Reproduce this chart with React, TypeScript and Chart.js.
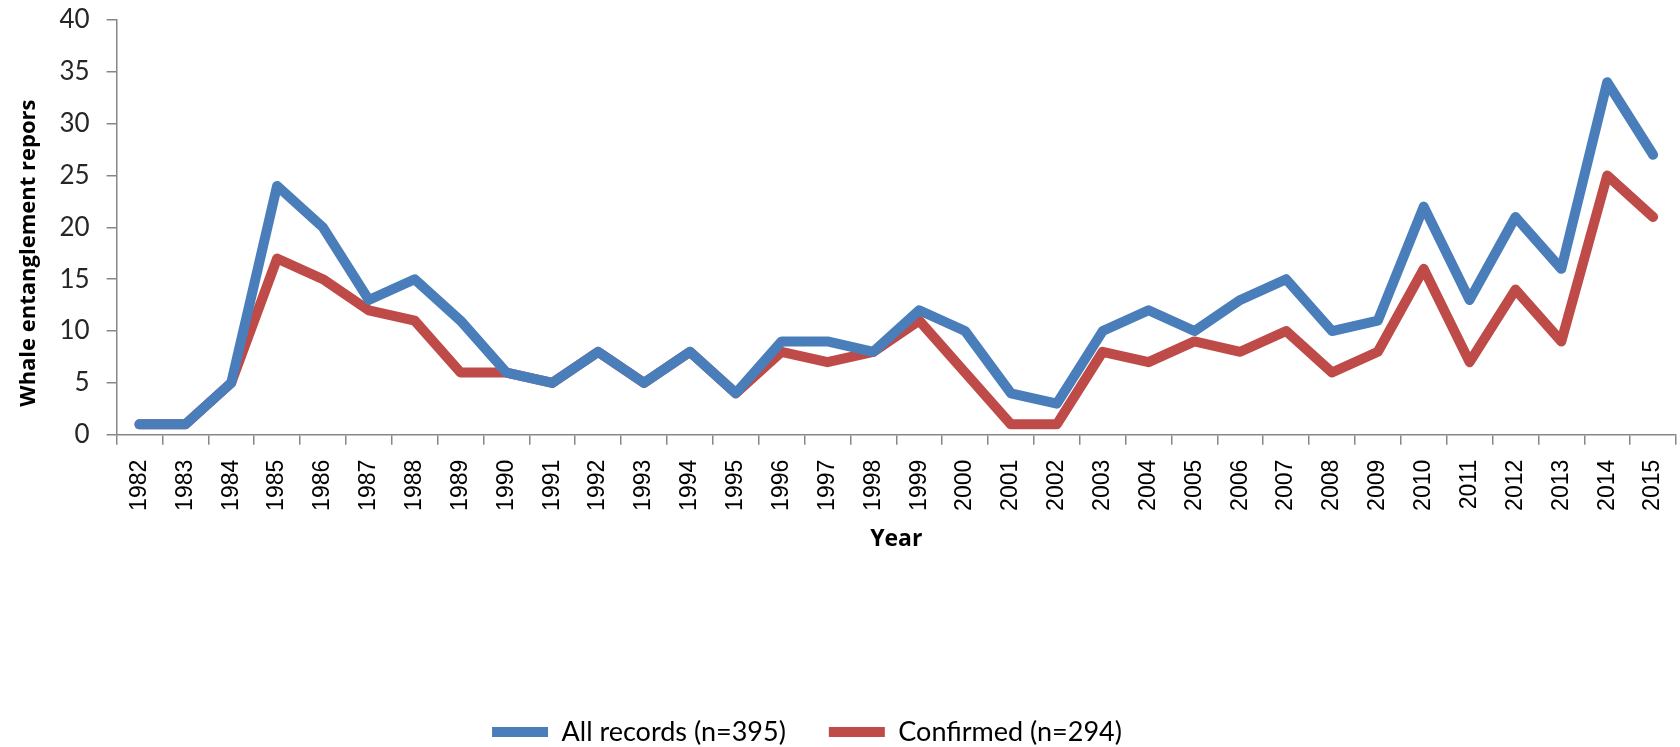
import React, { useEffect, useRef } from "react";
import { Chart, registerables } from "chart.js";

Chart.register(...registerables);

const years = [
  "1982", "1983", "1984", "1985", "1986", "1987", "1988", "1989", "1990", "1991",
  "1992", "1993", "1994", "1995", "1996", "1997", "1998", "1999", "2000", "2001",
  "2002", "2003", "2004", "2005", "2006", "2007", "2008", "2009", "2010", "2011",
  "2012", "2013", "2014", "2015",
];

const allRecords = [
  1, 1, 5, 24, 20, 13, 15, 11, 6, 5,
  8, 5, 8, 4, 9, 9, 8, 12, 10, 4,
  3, 10, 12, 10, 13, 15, 10, 11, 22, 13,
  21, 16, 34, 27,
];

const confirmed = [
  1, 1, 5, 17, 15, 12, 11, 6, 6, 5,
  8, 5, 8, 4, 8, 7, 8, 11, 6, 1,
  1, 8, 7, 9, 8, 10, 6, 8, 16, 7,
  14, 9, 25, 21,
];

const seriesLabels = ["All records (n=395)", "Confirmed (n=294)"];
const yTitle = "Whale entanglement repors";
const xTitle = "Year";

const LEGEND_SHIFT = -34;

const legendShift = {
  id: "legendShift",
  afterLayout(chart: any) {
    if (chart.legend) {
      chart.legend.left += LEGEND_SHIFT;
      chart.legend.right += LEGEND_SHIFT;
    }
  },
};

export default function App() {
  const ref = useRef<HTMLCanvasElement | null>(null);

  useEffect(() => {
    if (!ref.current) return;
    const axisColor = "#878787";
    const chart = new Chart(ref.current, {
      type: "line",
      data: {
        labels: years,
        datasets: [
          {
            label: seriesLabels[0],
            data: allRecords,
            borderColor: "#4A7EBB",
            backgroundColor: "#4A7EBB",
            borderWidth: 10,
            borderCapStyle: "round",
            borderJoinStyle: "round",
            pointRadius: 0,
            pointHoverRadius: 0,
            tension: 0,
          },
          {
            label: seriesLabels[1],
            data: confirmed,
            borderColor: "#BE4B48",
            backgroundColor: "#BE4B48",
            borderWidth: 10,
            borderCapStyle: "round",
            borderJoinStyle: "round",
            pointRadius: 0,
            pointHoverRadius: 0,
            tension: 0,
          },
        ],
      },
      options: {
        animation: false,
        responsive: true,
        maintainAspectRatio: false,
        layout: { padding: { top: 0, left: 6, right: 4, bottom: -8.5 } },
        plugins: {
          tooltip: { enabled: false },
          legend: {
            position: "bottom",
            labels: {
              usePointStyle: true,
              pointStyle: "line",
              pointStyleWidth: 56,
              color: "#000",
              padding: 43,
              font: { family: "Lato", size: 27 },
            },
          },
        },
        scales: {
          x: {
            offset: true,
            afterFit: (s: any) => {
              s.paddingLeft = 0;
              s.paddingRight = 0;
            },
            grid: {
              offset: true,
              drawOnChartArea: false,
              drawTicks: true,
              tickLength: 10,
              color: axisColor,
              lineWidth: 1.5,
            },
            border: { color: axisColor, width: 1.5 },
            ticks: {
              color: "#000",
              minRotation: 90,
              maxRotation: 90,
              autoSkip: false,
              padding: 15,
              font: { family: "Liberation Sans", size: 23 },
            },
            title: {
              display: true,
              text: xTitle,
              color: "#000",
              padding: { top: 0, bottom: 122 },
              font: { family: "Open Sans", size: 23, weight: "bold" },
            },
          },
          y: {
            min: 0,
            max: 40,
            afterFit: (s: any) => {
              s.paddingTop = 20;
            },
            grid: {
              drawOnChartArea: false,
              drawTicks: true,
              tickLength: 10,
              color: axisColor,
              lineWidth: 1.5,
            },
            border: { color: axisColor, width: 1.5 },
            ticks: {
              stepSize: 5,
              color: "#262626",
              padding: 17,
              font: { family: "Lato", size: 26 },
            },
            title: {
              display: true,
              text: yTitle + "         ",
              color: "#000",
              padding: { top: 10, bottom: 0 },
              font: { family: "Open Sans", size: 22, weight: "bold" },
            },
          },
        },
      },
      plugins: [legendShift],
    });
    return () => chart.destroy();
  }, []);

  return (
    <div style={{ position: "fixed", left: 0, top: 0, width: 1680, height: 747, background: "#fff" }}>
      <canvas ref={ref} />
    </div>
  );
}
